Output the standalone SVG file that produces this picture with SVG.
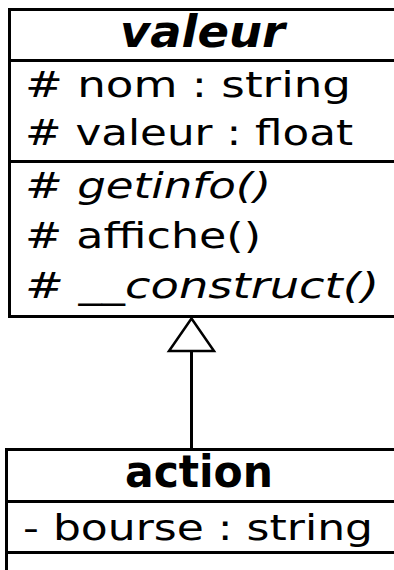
<svg xmlns="http://www.w3.org/2000/svg" width="394" height="570" viewBox="0 0 394 570">
<style>
.box{fill:#fff;stroke:#000;stroke-width:3}
.sep{stroke:#000;stroke-width:3}
.t{font-family:"DejaVu Sans",sans-serif;font-size:35px;fill:#000}
.title{font-family:"DejaVu Sans",sans-serif;font-size:44px;font-weight:bold;fill:#000}
.it{font-style:italic}
.edge{fill:none;stroke:#000;stroke-width:3}
.head{fill:#fff;stroke:#000;stroke-width:2.5}
</style>
<rect width="394" height="570" fill="#fff"/>
<g id="valeur">
<rect class="box" x="9.5" y="9.5" width="400" height="307"/>
<line class="sep" x1="9.5" y1="60.5" x2="400" y2="60.5"/>
<line class="sep" x1="9.5" y1="161.5" x2="400" y2="161.5"/>
<text class="title it" x="120" y="47" textLength="165" lengthAdjust="spacingAndGlyphs">valeur</text>
<text class="t" x="25" y="97" textLength="326" lengthAdjust="spacingAndGlyphs"># nom : string</text>
<text class="t" x="25" y="145" textLength="328" lengthAdjust="spacingAndGlyphs"># valeur : float</text>
<text class="t it" x="25" y="198" textLength="246" lengthAdjust="spacingAndGlyphs"># getinfo()</text>
<text class="t" x="25" y="248" textLength="236" lengthAdjust="spacingAndGlyphs"># affiche()</text>
<text class="t it" x="25" y="298" textLength="354" lengthAdjust="spacingAndGlyphs"># __construct()</text>
</g>
<g id="action">
<rect class="box" x="6.5" y="449.5" width="400" height="200"/>
<line class="sep" x1="6.5" y1="501.5" x2="400" y2="501.5"/>
<line class="sep" x1="6.5" y1="552.5" x2="400" y2="552.5"/>
<text class="title" x="125" y="487" textLength="148" lengthAdjust="spacingAndGlyphs">action</text>
<text class="t" x="23" y="540" textLength="350" lengthAdjust="spacingAndGlyphs">- bourse : string</text>
</g>
<g id="connectors">
<line class="edge" x1="191.5" y1="351" x2="191.5" y2="448"/>
<polygon class="head" points="191.5,318.5 169,351 214,351"/>
</g>
</svg>
